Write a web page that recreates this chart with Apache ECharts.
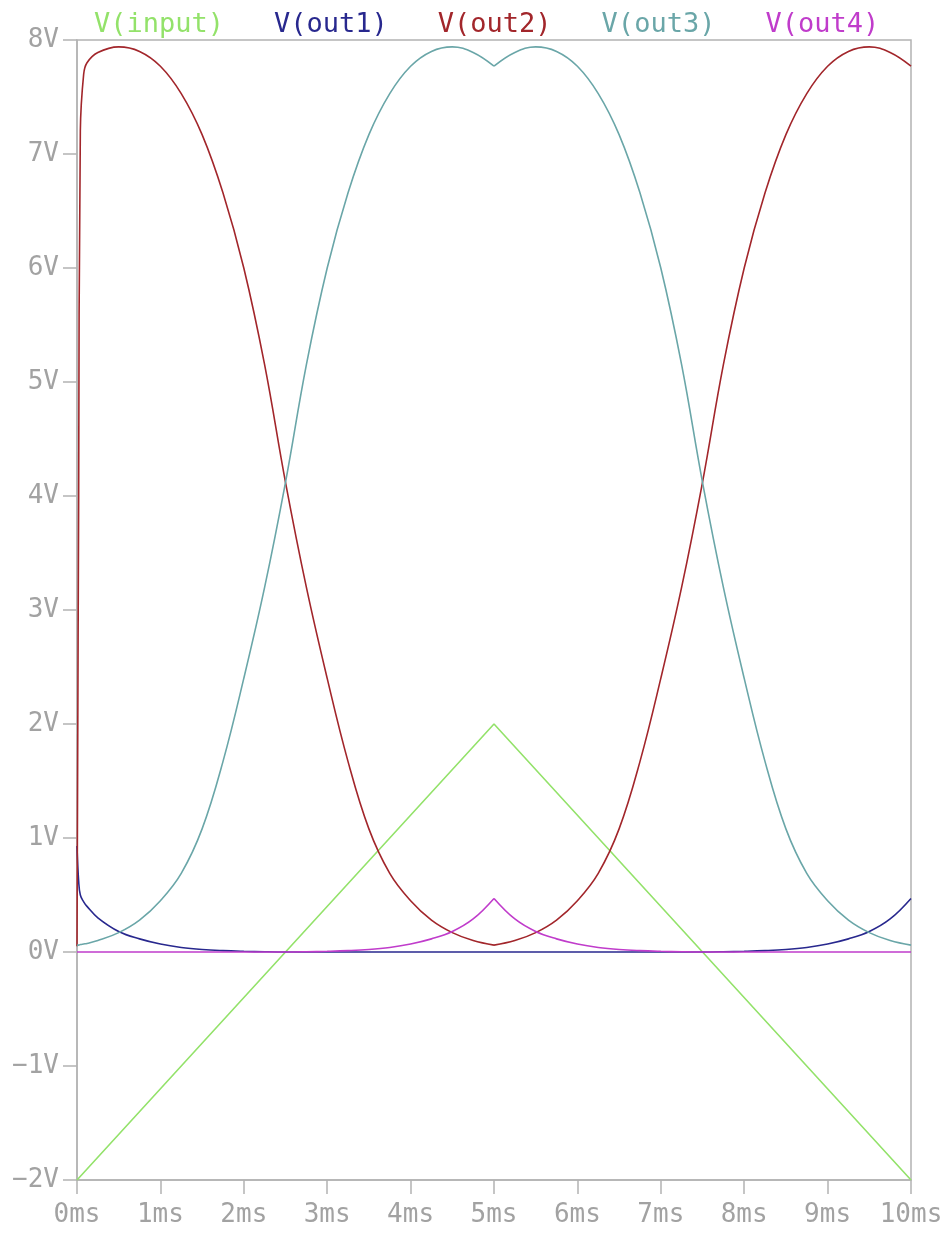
<!DOCTYPE html>
<html>
<head>
<meta charset="utf-8">
<title>Transient response</title>
<script src="https://cdn.jsdelivr.net/npm/echarts@6/dist/echarts.min.js"></script>
<style>
  html, body { margin: 0; padding: 0; background: #ffffff; }
  #chart { width: 952px; height: 1237px; }
</style>
</head>
<body>
<div id="chart"></div>
<script>
// Sample times (ms); dense at the start to capture the power-up transient.
const timeMs = [0, 0.02, 0.04, 0.08, 0.12, 0.25, 0.5, 0.75, 1, 1.25, 1.5, 1.75, 2, 2.25, 2.5, 2.75,
  3, 3.25, 3.5, 3.75, 4, 4.25, 4.5, 4.75, 5, 5.25, 5.5, 5.75, 6, 6.25, 6.5, 6.75, 7, 7.25, 7.5,
  7.75, 8, 8.25, 8.5, 8.75, 9, 9.25, 9.5, 9.75, 10];

// Triangle input (corner points only)
const inputTimeMs = [0, 5, 10];
const vInput = [-2, 2, -2];

const vOut1 = [0.93, 0.62, 0.50, 0.44, 0.40,
  0.30, 0.18, 0.115, 0.07, 0.04, 0.022, 0.012, 0.006, 0.002, 0, 0, 0, 0, 0, 0, 0, 0, 0, 0, 0,
  0, 0, 0, 0, 0, 0, 0, 0, 0, 0, 0.002, 0.006, 0.012, 0.022, 0.04, 0.07, 0.115, 0.18, 0.29, 0.47];

const vOut2 = [0.05, 4.0, 7.2, 7.7, 7.8,
  7.89, 7.94, 7.90, 7.77, 7.53, 7.17, 6.66, 6.00, 5.15, 4.12, 3.20, 2.40, 1.67, 1.08, 0.69,
  0.45, 0.28, 0.17, 0.10, 0.06,
  0.10, 0.17, 0.28, 0.45, 0.69, 1.08, 1.67, 2.40, 3.20, 4.12, 5.15, 6.00, 6.66, 7.17, 7.53,
  7.77, 7.90, 7.94, 7.89, 7.77];

const vOut3 = [0.06, 0.06, 0.065, 0.07, 0.075,
  0.10, 0.17, 0.28, 0.45, 0.69, 1.08, 1.67, 2.40, 3.20, 4.12, 5.15, 6.00, 6.66, 7.17, 7.53,
  7.77, 7.90, 7.94, 7.89, 7.77,
  7.89, 7.94, 7.90, 7.77, 7.53, 7.17, 6.66, 6.00, 5.15, 4.12, 3.20, 2.40, 1.67, 1.08, 0.69,
  0.45, 0.28, 0.17, 0.10, 0.06];

const vOut4 = [0, 0, 0, 0, 0,
  0, 0, 0, 0, 0, 0, 0, 0, 0, 0, 0.002, 0.006, 0.012, 0.022, 0.04, 0.07, 0.115, 0.18, 0.29, 0.47,
  0.29, 0.18, 0.115, 0.07, 0.04, 0.022, 0.012, 0.006, 0.002, 0, 0, 0, 0, 0, 0, 0, 0, 0, 0, 0];

const traceNames = ['V(input)', 'V(out1)', 'V(out2)', 'V(out3)', 'V(out4)'];
const traceColors = ['#93e26a', '#28288e', '#a2262b', '#6aa6a8', '#c03ccb'];

// The input ramp turns around at this instant; the shaped outputs have a corner there.
const turnaroundMs = 5;

const axisGray = '#b3b3b3';
const labelGray = '#a2a2a2';
const monoFont = '"DejaVu Sans Mono", "Liberation Mono", monospace';

const pairs = (xs, ys) => xs.map((x, i) => [x, ys[i]]);

// Smooth each half separately so the corner at the turnaround stays sharp.
const halves = data => [
  data.filter(p => p[0] <= turnaroundMs),
  data.filter(p => p[0] >= turnaroundMs)
];

const traces = [
  { pieces: [pairs(inputTimeMs, vInput)], smooth: false },
  { pieces: halves(pairs(timeMs, vOut1)), smooth: 0.4 },
  { pieces: halves(pairs(timeMs, vOut2)), smooth: 0.4 },
  { pieces: halves(pairs(timeMs, vOut3)), smooth: 0.4 },
  { pieces: halves(pairs(timeMs, vOut4)), smooth: 0.4 }
];

const series = [];
traces.forEach((tr, i) => {
  tr.pieces.forEach(piece => {
    series.push({
      name: traceNames[i],
      type: 'line',
      data: piece,
      showSymbol: false,
      symbol: 'none',
      smooth: tr.smooth,
      clip: true,
      lineStyle: { color: traceColors[i], width: 1.6 },
      itemStyle: { color: traceColors[i] },
      emphasis: { disabled: true },
      z: 2 + i
    });
  });
});

const chart = echarts.init(document.getElementById('chart'), null, { renderer: 'canvas' });

chart.setOption({
  animation: false,
  backgroundColor: '#ffffff',
  legend: {
    left: 84,
    top: 6,
    itemGap: 45,
    itemWidth: 0,
    itemHeight: 0,
    icon: 'rect',
    selectedMode: false,
    data: traceNames.map((n, i) => ({
      name: n,
      textStyle: { color: traceColors[i], fontFamily: monoFont, fontSize: 27 }
    }))
  },
  grid: {
    left: 77,
    top: 40,
    width: 834,
    height: 1140,
    show: true,
    borderColor: axisGray,
    borderWidth: 1.5,
    backgroundColor: 'transparent'
  },
  xAxis: {
    type: 'value',
    min: 0,
    max: 10,
    interval: 1,
    axisLine: { show: true, onZero: false, lineStyle: { color: axisGray, width: 1.5 } },
    axisTick: { show: true, length: 14, lineStyle: { color: axisGray, width: 1.5 } },
    axisLabel: {
      margin: 22,
      color: labelGray,
      fontFamily: monoFont,
      fontSize: 26,
      formatter: v => v + 'ms'
    },
    splitLine: { show: false }
  },
  yAxis: {
    type: 'value',
    min: -2,
    max: 8,
    interval: 1,
    axisLine: { show: true, onZero: false, lineStyle: { color: axisGray, width: 1.5 } },
    axisTick: { show: true, length: 14, lineStyle: { color: axisGray, width: 1.5 } },
    axisLabel: {
      margin: 18,
      color: labelGray,
      fontFamily: monoFont,
      fontSize: 26,
      formatter: v => (v < 0 ? '\u2212' + Math.abs(v) : v) + 'V'
    },
    splitLine: { show: false }
  },
  series: series
});
</script>
</body>
</html>
